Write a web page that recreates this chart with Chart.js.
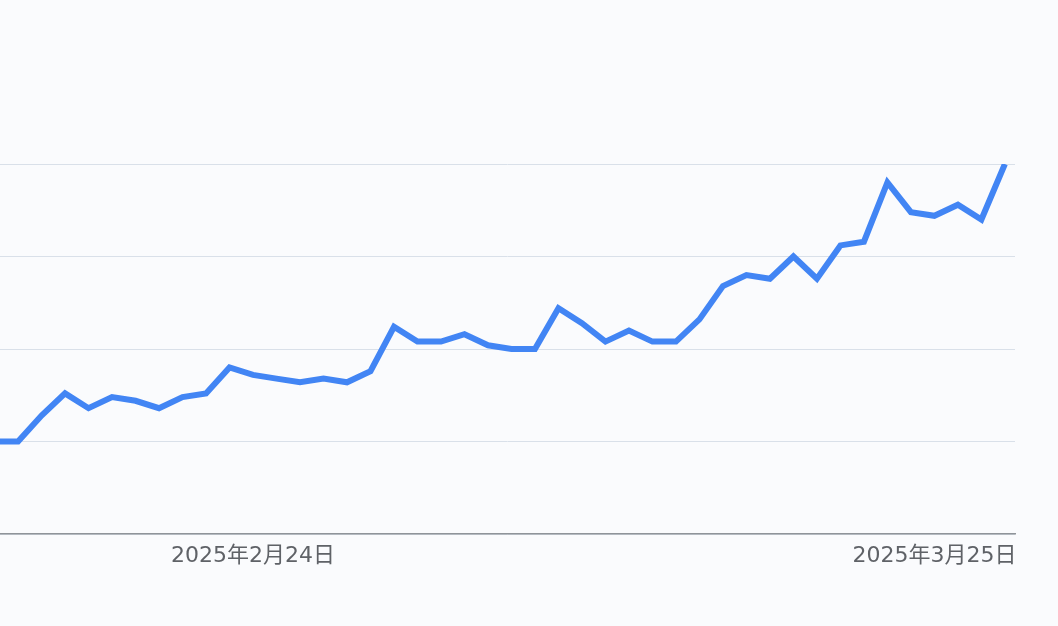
<!DOCTYPE html>
<html>
<head>
<meta charset="utf-8">
<script src="https://cdn.jsdelivr.net/npm/chart.js@4/dist/chart.umd.min.js"></script>
<style>
  html, body { margin: 0; padding: 0; background: #fafbfd; }
  #wrap { width: 1058px; height: 626px; }
</style>
</head>
<body>
<div id="wrap"><canvas id="trend"></canvas></div>
<script>
// one value per day, 2025-02-13 .. 2025-03-28
const dates = [
    '2025年2月13日', '2025年2月14日', '2025年2月15日', '2025年2月16日', '2025年2月17日',
    '2025年2月18日', '2025年2月19日', '2025年2月20日', '2025年2月21日', '2025年2月22日',
    '2025年2月23日', '2025年2月24日', '2025年2月25日', '2025年2月26日', '2025年2月27日',
    '2025年2月28日', '2025年3月1日', '2025年3月2日', '2025年3月3日', '2025年3月4日',
    '2025年3月5日', '2025年3月6日', '2025年3月7日', '2025年3月8日', '2025年3月9日',
    '2025年3月10日', '2025年3月11日', '2025年3月12日', '2025年3月13日', '2025年3月14日',
    '2025年3月15日', '2025年3月16日', '2025年3月17日', '2025年3月18日', '2025年3月19日',
    '2025年3月20日', '2025年3月21日', '2025年3月22日', '2025年3月23日', '2025年3月24日',
    '2025年3月25日', '2025年3月26日', '2025年3月27日', '2025年3月28日'
];
const interest = [
    25, 25, 32, 38, 34, 37, 36, 34, 37, 38,
    45, 43, 42, 41, 42, 41, 44, 56, 52, 52,
    54, 51, 50, 50, 61, 57, 52, 55, 52, 52,
    58, 67, 70, 69, 75, 69, 78, 79, 95, 87,
    86, 89, 85, 100
];
// dates that get a label under the axis
const labelDates = ['2025年2月24日', '2025年3月25日'];
const yTicks = [0, 25, 50, 75, 100];

const points = interest.map((v, i) => ({ x: i, y: v }));
const labelIdx = labelDates.map(d => dates.indexOf(d));

new Chart(document.getElementById('trend'), {
    type: 'line',
    data: {
        datasets: [{
            data: points,
            borderColor: '#4285f4',
            borderWidth: 6,
            pointRadius: 0,
            tension: 0,
            borderCapStyle: 'butt',
            borderJoinStyle: 'miter'
        }]
    },
    options: {
        responsive: true,
        maintainAspectRatio: false,
        animation: false,
        layout: { padding: { top: 164, right: 43, left: 0, bottom: 0 } },
        plugins: { legend: { display: false }, tooltip: { enabled: false } },
        scales: {
            x: {
                type: 'linear',
                min: 0.232,
                max: 43.43,
                afterBuildTicks: s => { s.ticks = labelIdx.map(v => ({ value: v })); },
                afterFit: s => { s.height = 92; },
                grid: { display: false },
                border: { display: true, color: '#8f9499', width: 1.5 },
                ticks: {
                    autoSkip: false,
                    maxRotation: 0,
                    padding: 1,
                    color: '#5f6267',
                    font: { family: '"DejaVu Sans", "Noto Sans CJK SC", sans-serif', size: 22 },
                    callback: v => dates[v]
                }
            },
            y: {
                min: 0,
                max: 100,
                afterBuildTicks: s => { s.ticks = yTicks.map(v => ({ value: v })); },
                afterFit: s => { s.width = 0; },
                grid: { color: '#d9e0e9', lineWidth: 1, drawTicks: false },
                border: { display: false },
                ticks: { display: false }
            }
        }
    }
});
</script>
</body>
</html>
